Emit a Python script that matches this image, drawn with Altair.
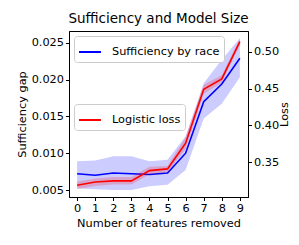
import altair as alt
import pandas as pd

features = [0, 1, 2, 3, 4, 5, 6, 7, 8, 9]
suff = [0.0072, 0.0070, 0.0073, 0.0072, 0.0071, 0.0073, 0.0100, 0.0170, 0.0194, 0.0229]
suff_hi = [0.0089, 0.0090, 0.0096, 0.0096, 0.0089, 0.0091, 0.0123, 0.0195, 0.0227, 0.0256]
suff_lo = [0.0052, 0.0051, 0.0050, 0.0050, 0.0055, 0.0057, 0.0077, 0.0147, 0.0167, 0.0203]
loss = [0.319, 0.3234, 0.3248, 0.3248, 0.3388, 0.3411, 0.3759, 0.449, 0.463, 0.5136]
loss_hi = [0.324, 0.328, 0.330, 0.330, 0.344, 0.345, 0.384, 0.455, 0.468, 0.518]
loss_lo = [0.314, 0.318, 0.320, 0.320, 0.334, 0.337, 0.368, 0.443, 0.458, 0.509]

df = pd.DataFrame({
    "x": features, "suff": suff, "suff_hi": suff_hi, "suff_lo": suff_lo,
    "loss": loss, "loss_hi": loss_hi, "loss_lo": loss_lo,
    "s_name": ["Sufficiency by race"] * 10, "l_name": ["Logistic loss"] * 10,
})

FONT = "DejaVu Sans"
xenc = alt.X("x:Q", scale=alt.Scale(domain=[-0.45, 9.45], nice=False, zero=False),
             axis=alt.Axis(values=features, format="d", title="Number of features removed",
                           grid=False))

ysuff_scale = alt.Scale(domain=[0.00405, 0.02659], nice=False, zero=False)
yloss_scale = alt.Scale(domain=[0.303, 0.528], nice=False, zero=False)

base = alt.Chart(df)

blue_band = base.mark_area(color="blue", opacity=0.2, clip=True).encode(
    x=xenc,
    y=alt.Y("suff_lo:Q", scale=ysuff_scale,
            axis=alt.Axis(values=[0.005, 0.010, 0.015, 0.020, 0.025], format=".3f",
                          title="Sufficiency gap", grid=False, orient="left")),
    y2="suff_hi:Q",
)
blue_line = base.mark_line(strokeWidth=1.6, clip=True).encode(
    x=xenc,
    y=alt.Y("suff:Q", scale=ysuff_scale),
    color=alt.Color("s_name:N", scale=alt.Scale(domain=["Sufficiency by race"], range=["#0000ff"]),
                    legend=alt.Legend(title=None, orient="none", legendX=5, legendY=5,
                                      symbolType="stroke", symbolSize=484,
                                      symbolStrokeWidth=2, labelOffset=10,
                                      padding=4, fillColor="white", strokeColor="#cccccc",
                                      cornerRadius=3)),
)
red_band = base.mark_area(color="red", opacity=0.2, clip=True).encode(
    x=xenc,
    y=alt.Y("loss_lo:Q", scale=yloss_scale,
            axis=alt.Axis(values=[0.35, 0.40, 0.45, 0.50], format=".2f",
                          title="Loss", grid=False, orient="right",
                          titleAngle=270, titleBaseline="top", titlePadding=0)),
    y2="loss_hi:Q",
)
red_line = base.mark_line(strokeWidth=1.6, clip=True).encode(
    x=xenc,
    y=alt.Y("loss:Q", scale=yloss_scale),
    color=alt.Color("l_name:N", scale=alt.Scale(domain=["Logistic loss"], range=["#ff0000"]),
                    legend=alt.Legend(title=None, orient="none", legendX=5, legendY=73,
                                      symbolType="stroke", symbolSize=484,
                                      symbolStrokeWidth=2, labelOffset=10,
                                      padding=4, fillColor="white", strokeColor="#cccccc",
                                      cornerRadius=3)),
)

left = alt.layer(blue_band, blue_line)
right = alt.layer(red_band, red_line)

chart = alt.layer(left, right).resolve_scale(y="independent", color="independent").properties(
    width=179, height=166,
    title=alt.TitleParams("Sufficiency and Model Size", fontSize=13.5, font=FONT,
                          fontWeight="normal", color="black", offset=6),
    autosize=alt.AutoSizeParams(type="none"),
    padding={"left": 61, "top": 23, "right": 43, "bottom": 40},
).configure_view(stroke="black", strokeWidth=1).configure_axis(
    labelFont=FONT, titleFont=FONT, labelFontSize=11.3, titleFontSize=11.3,
    labelColor="black", titleColor="black", titleFontWeight="normal",
    domainColor="black", tickColor="black", tickSize=3.5, labelPadding=2,
).configure_legend(labelFont=FONT, labelFontSize=11.3, labelColor="black")

chart.save("out.html", embed_options={"renderer": "svg", "actions": False})
